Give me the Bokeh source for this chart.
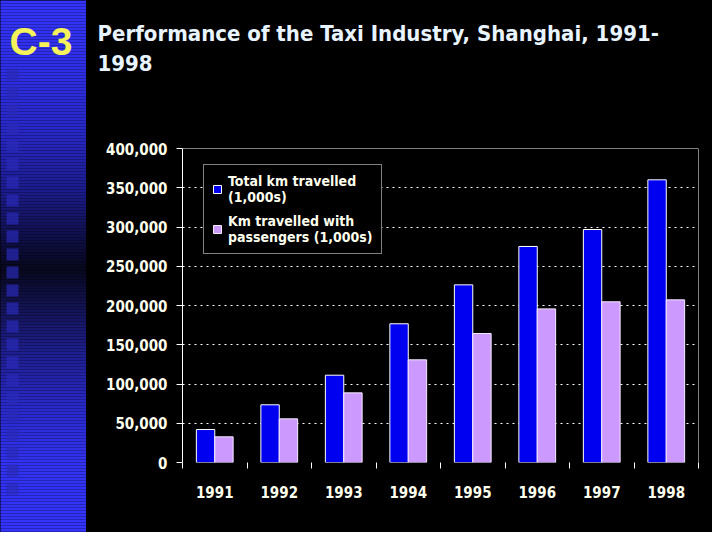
import numpy as np
from bokeh.plotting import figure
from bokeh.layouts import row, column
from bokeh.models import Range1d, FixedTicker, NumeralTickFormatter, Span
from bokeh.core.properties import value
from bokeh.embed import file_html
from bokeh.resources import INLINE

# ---------------- data ----------------
years = ["1991", "1992", "1993", "1994", "1995", "1996", "1997", "1998"]
total_km = [42000, 73500, 111200, 176700, 226300, 275200, 296800, 360100]
passenger_km = [32700, 55600, 88700, 130800, 164300, 195700, 204700, 207200]
y_ticks = [0, 50000, 100000, 150000, 200000, 250000, 300000, 350000, 400000]
label_total = "Total km travelled\n(1,000s)"
label_pass = "Km travelled with\npassengers (1,000s)"
title_line1 = "Performance of the Taxi Industry, Shanghai, 1991-"
title_line2 = "1998"
slide_tag = "C-3"

FONT = "DejaVu Sans Condensed, Liberation Sans, sans-serif"
TXT = "#ffffee"
BLACK_BG = {"background-color": "black"}

W, H = 712, 532
STRIP_W = 86
HEAD_H = 100
FR_L, FR_R, FR_T, FR_B = 182, 698, 148, 462


def blank(width, height):
    f = figure(width=width, height=height, x_range=Range1d(0, width), y_range=Range1d(height, 0),
               x_axis_location=None, y_axis_location=None, min_border=0,
               outline_line_color=None, border_fill_color="black",
               background_fill_color="black", output_backend="svg", toolbar_location=None)
    f.grid.visible = False
    f.styles = BLACK_BG
    return f


# ---------------- left strip ----------------
s = blank(STRIP_W, H)
key_y = [0, 60, 130, 190, 240, 268, 300, 350, 410, 460, 540]
key_r = [52, 48, 40, 28, 15, 8, 18, 30, 42, 50, 52]
key_b = [250, 235, 200, 140, 70, 30, 75, 140, 205, 240, 252]
band_top = np.arange(-3, H + 3, 3)
rr = np.interp(band_top + 1.5, key_y, key_r)
bb = np.interp(band_top + 1.5, key_y, key_b)
band_colors = ["#%02x%02x%02x" % (int(r), int(r), int(b)) for r, b in zip(rr, bb)]
s.quad(left=-2, right=STRIP_W + 2, top=band_top, bottom=band_top + 3,
       fill_color=band_colors, line_color=None)
sq_top = np.arange(68, 492, 18)
s.quad(left=6, right=18, top=sq_top, bottom=sq_top + 12,
       fill_color="#2a2ab8", fill_alpha=0.7, line_color=None)
s.text(x=[9], y=[41], text=[slide_tag], text_font=value("Liberation Sans"),
       text_font_style="bold", text_font_size="39px", text_color="#f5f25a",
       text_baseline="middle")

# ---------------- header ----------------
h = blank(W - STRIP_W, HEAD_H)
h.text(x=[97 - STRIP_W] * 2, y=[33, 62], text=[title_line1, title_line2], text_font=value(FONT),
       text_font_style="bold", text_font_size="22px", text_color="#e8f4ff",
       text_baseline="middle")

# ---------------- main chart ----------------
p = figure(width=W - STRIP_W, height=H - HEAD_H, x_range=Range1d(0, len(years)),
           y_range=Range1d(0, 400000),
           min_border_left=FR_L - STRIP_W, min_border_right=W - FR_R,
           min_border_top=FR_T - HEAD_H, min_border_bottom=H - FR_B,
           background_fill_color="black", border_fill_color="black",
           outline_line_color=None, output_backend="svg", toolbar_location=None)
p.styles = BLACK_BG

centers = np.arange(len(years)) + 0.5
bw = 0.285
p.vbar(x=centers - bw / 2, top=total_km, width=bw, bottom=0,
       fill_color="#0000f0", line_color="white", line_width=1, legend_label=label_total)
p.vbar(x=centers + bw / 2, top=passenger_km, width=bw, bottom=0,
       fill_color="#cc99ff", line_color="#f4eaff", line_width=1, legend_label=label_pass)

# frame top and right edges
p.add_layout(Span(location=400000, dimension="width", line_color="white", line_width=1))
p.add_layout(Span(location=len(years), dimension="height", line_color="white", line_width=1))

# y axis
p.yaxis.ticker = FixedTicker(ticks=y_ticks)
p.yaxis.formatter = NumeralTickFormatter(format="0,0")
p.yaxis.axis_line_color = "white"
p.yaxis.major_tick_line_color = "white"
p.yaxis.major_tick_out = 6
p.yaxis.major_tick_in = 0
p.yaxis.minor_tick_line_color = None
p.yaxis.major_label_standoff = 9
p.yaxis.major_label_text_font = FONT
p.yaxis.major_label_text_font_style = "bold"
p.yaxis.major_label_text_font_size = "15px"
p.yaxis.major_label_text_color = TXT

# x axis
p.xaxis.ticker = FixedTicker(ticks=list(centers), minor_ticks=list(range(len(years) + 1)))
p.xaxis.major_label_overrides = {float(c): y for c, y in zip(centers, years)}
p.xaxis.axis_line_color = None
p.xaxis.major_tick_line_color = None
p.xaxis.major_tick_out = 0
p.xaxis.major_tick_in = 0
p.xaxis.minor_tick_line_color = "white"
p.xaxis.minor_tick_out = 6
p.xaxis.minor_tick_in = 0
p.xaxis.major_label_standoff = 17
p.xaxis.major_label_text_font = FONT
p.xaxis.major_label_text_font_style = "bold"
p.xaxis.major_label_text_font_size = "15px"
p.xaxis.major_label_text_color = TXT

# grid
p.xgrid.visible = False
p.ygrid.ticker = FixedTicker(ticks=y_ticks[1:-1])
p.ygrid.grid_line_color = "white"
p.ygrid.grid_line_dash = "2 4"
p.ygrid.grid_line_width = 1

# legend
lg = p.legend[0]
lg.location = (203 - FR_L, FR_B - 254)
lg.label_text_font = FONT
lg.label_text_font_style = "bold"
lg.label_text_font_size = "14px"
lg.label_text_color = TXT
lg.label_text_line_height = 1.35
lg.border_line_color = "white"
lg.border_line_width = 1
lg.background_fill_color = "black"
lg.background_fill_alpha = 1.0
lg.glyph_width = 10
lg.glyph_height = 10
lg.label_standoff = 6
lg.padding = 8
lg.spacing = 8
lg.margin = 0

right_col = column(column(h, styles=BLACK_BG), column(p, styles=BLACK_BG), spacing=0, styles=BLACK_BG)
layout = row(s, right_col, spacing=0, styles=BLACK_BG)

open("out.html", "w").write(file_html(layout, INLINE))
